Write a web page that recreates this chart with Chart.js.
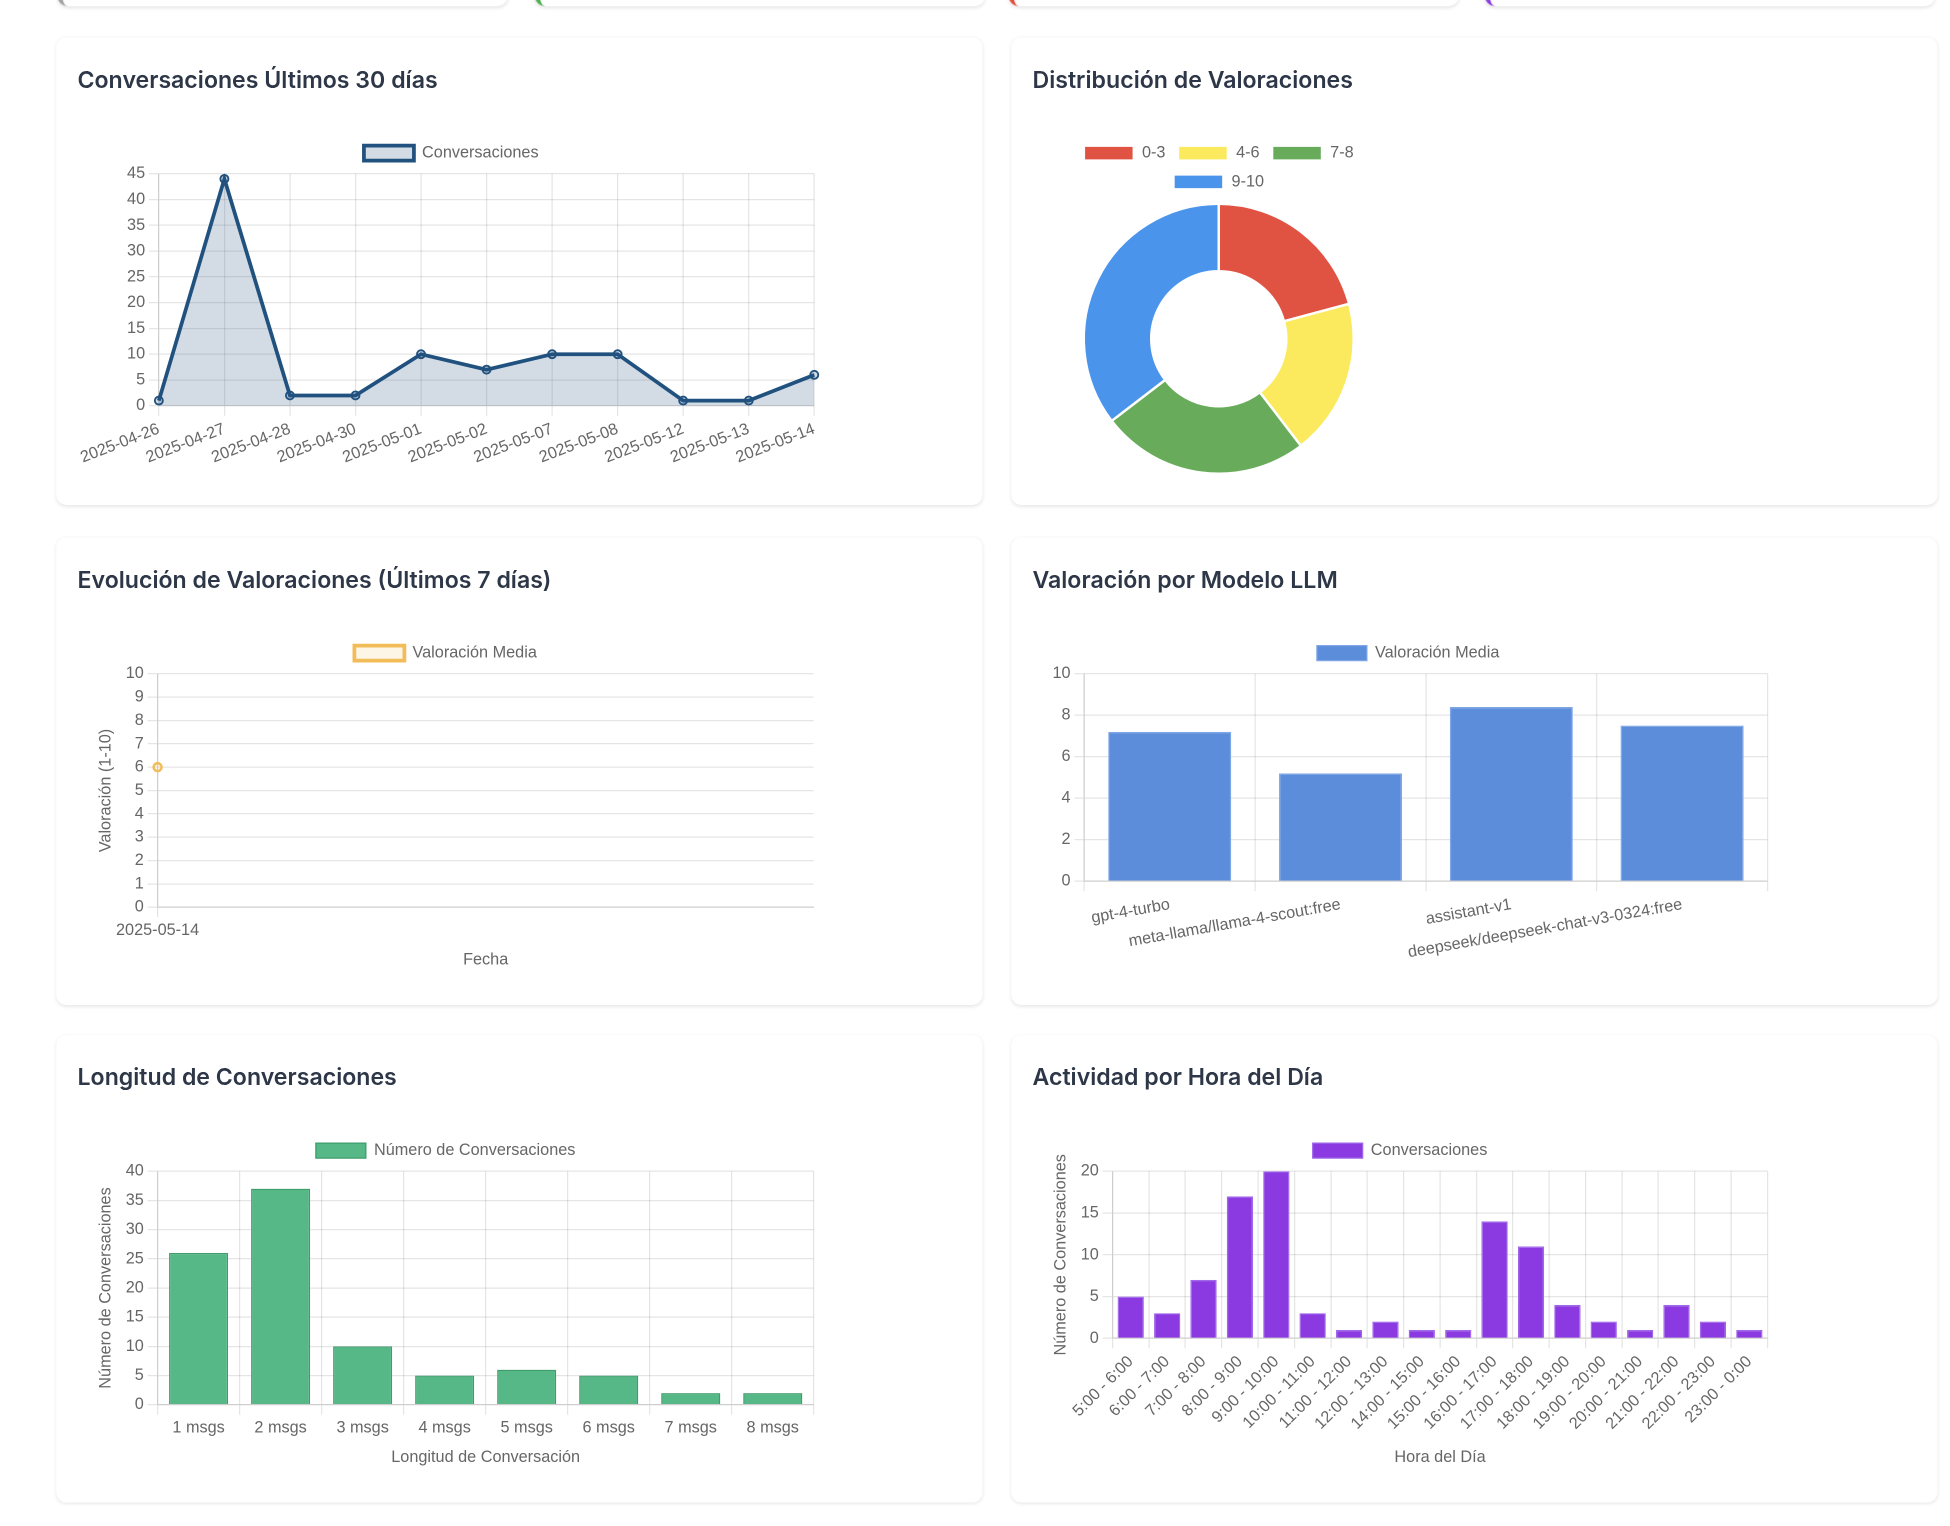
<!DOCTYPE html>
<html lang="es">
<head>
<meta charset="utf-8">
<title>Panel de estadísticas</title>
<script src="https://cdn.jsdelivr.net/npm/chart.js@4.4.1/dist/chart.umd.min.js"></script>
<style>
    html, body { margin: 0; padding: 0; background: #fff; overflow: hidden; }
    body { width: 1950px; height: 1526px; }
    /* page is laid out at 1x and scaled to the screenshot size */
    #page {
        position: relative;
        width: 1560px;
        height: 1221px;
        transform: scale(1.25);
        transform-origin: 0 0;
        font-family: 'Inter', 'Noto Sans', sans-serif;
    }
    .stat-card {
        position: absolute;
        top: -95px;
        height: 100px;
        width: 360px;
        background: #fff;
        border-radius: 8px;
        box-shadow: 0 1px 3px rgba(0, 0, 0, 0.10);
        box-sizing: border-box;
    }
    .chart-card {
        position: absolute;
        width: 741px;
        height: 374px;
        background: #fff;
        border-radius: 8px;
        box-shadow: 0 1px 3px rgba(0, 0, 0, 0.09);
    }
    .chart-card h3 {
        position: absolute;
        left: 17px;
        top: 22px;
        margin: 0;
        font-size: 18.5px;
        line-height: 22px;
        font-weight: 600;
        color: #2d3748;
        white-space: nowrap;
    }
    .chart-box {
        position: absolute;
        left: 17px;
        top: 76px;
        width: 598px;
        height: 274px;
    }
    .chart-box.donut { width: 298px; }
</style>
</head>
<body>
<div id="page">
    <div class="stat-card" style="left:46px;  border-left:4px solid #a3a3a3;"></div>
    <div class="stat-card" style="left:428px; border-left:4px solid #4caf50;"></div>
    <div class="stat-card" style="left:807px; border-left:4px solid #e74c3c;"></div>
    <div class="stat-card" style="left:1188px; border-left:4px solid #8b3fe0;"></div>

    <div class="chart-card" style="left:45px; top:30px;">
        <h3>Conversaciones Últimos 30 días</h3>
        <div class="chart-box"><canvas id="chart-daily"></canvas></div>
    </div>
    <div class="chart-card" style="left:809px; top:30px;">
        <h3>Distribución de Valoraciones</h3>
        <div class="chart-box donut"><canvas id="chart-ratings"></canvas></div>
    </div>
    <div class="chart-card" style="left:45px; top:429.5px;">
        <h3>Evolución de Valoraciones (Últimos 7 días)</h3>
        <div class="chart-box"><canvas id="chart-evolution"></canvas></div>
    </div>
    <div class="chart-card" style="left:809px; top:429.5px;">
        <h3>Valoración por Modelo LLM</h3>
        <div class="chart-box"><canvas id="chart-models"></canvas></div>
    </div>
    <div class="chart-card" style="left:45px; top:828px;">
        <h3>Longitud de Conversaciones</h3>
        <div class="chart-box"><canvas id="chart-length"></canvas></div>
    </div>
    <div class="chart-card" style="left:809px; top:828px;">
        <h3>Actividad por Hora del Día</h3>
        <div class="chart-box"><canvas id="chart-hours"></canvas></div>
    </div>
</div>

<script>
// ─── Data ─────────────────────────────────────────────

const dailyLabels = ['2025-04-26', '2025-04-27', '2025-04-28', '2025-04-30', '2025-05-01',
    '2025-05-02', '2025-05-07', '2025-05-08', '2025-05-12', '2025-05-13', '2025-05-14'];
const dailyValues = [1, 44, 2, 2, 10, 7, 10, 10, 1, 1, 6];

const ratingRanges = ['0-3', '4-6', '7-8', '9-10'];
const ratingCounts = [10, 9, 12, 17];

const evolutionLabels = ['2025-05-14'];
const evolutionValues = [6];

const modelLabels = ['gpt-4-turbo', 'meta-llama/llama-4-scout:free', 'assistant-v1',
    'deepseek/deepseek-chat-v3-0324:free'];
const modelValues = [7.2, 5.2, 8.4, 7.5];

const lengthLabels = ['1 msgs', '2 msgs', '3 msgs', '4 msgs', '5 msgs', '6 msgs', '7 msgs', '8 msgs'];
const lengthValues = [26, 37, 10, 5, 6, 5, 2, 2];

const hourLabels = ['5:00 - 6:00', '6:00 - 7:00', '7:00 - 8:00', '8:00 - 9:00', '9:00 - 10:00',
    '10:00 - 11:00', '11:00 - 12:00', '12:00 - 13:00', '14:00 - 15:00', '15:00 - 16:00',
    '16:00 - 17:00', '17:00 - 18:00', '18:00 - 19:00', '19:00 - 20:00', '20:00 - 21:00',
    '21:00 - 22:00', '22:00 - 23:00', '23:00 - 0:00'];
const hourValues = [5, 3, 7, 17, 20, 3, 1, 2, 1, 1, 14, 11, 4, 2, 1, 4, 2, 1];

// ─── Defaults ─────────────────────────────────────────

Chart.defaults.font.family = "'Helvetica Neue', Helvetica, Arial, 'Liberation Sans', sans-serif";
Chart.defaults.font.size = 13;
Chart.defaults.animation = false;
Chart.defaults.maintainAspectRatio = false;
Chart.defaults.devicePixelRatio = 2.5;
Chart.defaults.plugins.legend.labels.boxWidth = 40;
Chart.defaults.plugins.legend.labels.boxHeight = 12;

// left axis: padding.top is the outer side
function yTitle(text) {
    return { display: true, text, padding: { top: 15, bottom: 5 } };
}

// bottom axis: padding.top sits between tick labels and title
function xTitle(text, gap = 5) {
    return { display: true, text, padding: { top: gap, bottom: 4 } };
}

// ─── Charts ───────────────────────────────────────────

new Chart(document.getElementById('chart-daily'), {
    type: 'line',
    data: {
        labels: dailyLabels,
        datasets: [{
            label: 'Conversaciones',
            data: dailyValues,
            borderColor: '#21527f',
            backgroundColor: 'rgba(33, 82, 127, 0.2)',
            borderWidth: 3,
            pointBorderWidth: 1.5,
            pointRadius: 3.2,
            fill: true,
            tension: 0,
        }],
    },
    options: {
        layout: { padding: { bottom: 3 } },
        scales: {
            x: { ticks: { minRotation: 21, maxRotation: 21, autoSkip: false } },
            y: { beginAtZero: true, max: 45, ticks: { stepSize: 5, autoSkip: false } },
        },
    },
});

new Chart(document.getElementById('chart-ratings'), {
    type: 'doughnut',
    data: {
        labels: ratingRanges,
        datasets: [{
            data: ratingCounts,
            backgroundColor: ['#e05343', '#fcea5e', '#68ac5b', '#4a95eb'],
        }],
    },
    options: {
        plugins: { legend: { position: 'top' } },
    },
});

new Chart(document.getElementById('chart-evolution'), {
    type: 'line',
    data: {
        labels: evolutionLabels,
        datasets: [{
            label: 'Valoración Media',
            data: evolutionValues,
            borderColor: '#f2bd58',
            backgroundColor: 'rgba(242, 200, 110, 0.18)',
            borderWidth: 3,
            pointBorderWidth: 2,
            pointRadius: 3.2,
            fill: true,
        }],
    },
    options: {
        layout: { padding: { right: 9 } },
        scales: {
            x: { title: xTitle('Fecha') },
            y: {
                min: 0, max: 10,
                ticks: { stepSize: 1, autoSkip: false },
                title: yTitle('Valoración (1-10)'),
            },
        },
    },
});

new Chart(document.getElementById('chart-models'), {
    type: 'bar',
    data: {
        labels: modelLabels,
        datasets: [{
            label: 'Valoración Media',
            data: modelValues,
            backgroundColor: '#5b8ddb',
            borderColor: '#7ea6e6',
            borderWidth: 1,
        }],
    },
    options: {
        layout: { padding: { left: 13, right: 10, bottom: 7 } },
        scales: {
            x: { ticks: { minRotation: 10, maxRotation: 10, autoSkip: false } },
            y: { beginAtZero: true, max: 10, ticks: { stepSize: 2 } },
        },
    },
});

new Chart(document.getElementById('chart-length'), {
    type: 'bar',
    data: {
        labels: lengthLabels,
        datasets: [{
            label: 'Número de Conversaciones',
            data: lengthValues,
            backgroundColor: '#55b886',
            borderColor: '#3f9c6c',
            borderWidth: 1,
        }],
    },
    options: {
        layout: { padding: { right: 9 } },
        scales: {
            x: { title: xTitle('Longitud de Conversación') },
            y: {
                beginAtZero: true, max: 40,
                ticks: { stepSize: 5, autoSkip: false },
                title: yTitle('Número de Conversaciones'),
            },
        },
    },
});

new Chart(document.getElementById('chart-hours'), {
    type: 'bar',
    data: {
        labels: hourLabels,
        datasets: [{
            label: 'Conversaciones',
            data: hourValues,
            backgroundColor: '#8a3ae0',
            borderColor: '#a066ea',
            borderWidth: 1,
        }],
    },
    options: {
        layout: { padding: { right: 10 } },
        scales: {
            x: {
                ticks: { minRotation: 45, maxRotation: 45, autoSkip: false },
                title: xTitle('Hora del Día', 8.5),
            },
            y: {
                beginAtZero: true, max: 20,
                ticks: { stepSize: 5, autoSkip: false },
                title: yTitle('Número de Conversaciones'),
            },
        },
    },
});
</script>
</body>
</html>
